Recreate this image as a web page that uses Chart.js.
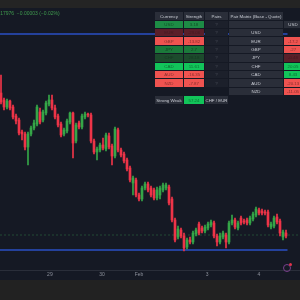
<!DOCTYPE html>
<html>
<head>
<meta charset="utf-8">
<script src="https://cdn.jsdelivr.net/npm/chart.js@4.4.1/dist/chart.umd.min.js"></script>
<style>
  body { margin: 0; width: 300px; height: 300px; overflow: hidden; background: #151924; position: relative; font-family: "Liberation Sans", Arial, sans-serif; }
  #topbar { position: absolute; left: 0; top: 0; width: 300px; height: 8px; background: #242424; }
  #bottombar { position: absolute; left: 0; top: 280px; width: 300px; height: 20px; background: #222222; }
  #wrap { position: absolute; left: 0; top: 8px; width: 300px; height: 272px; }
  #quote { position: absolute; left: -4px; top: 10px; font-size: 5px; color: #3f9a4e; white-space: nowrap; }
  .cell { position: absolute; font-size: 4.4px; color: #c9ccd4; display: flex; align-items: center; justify-content: center; white-space: nowrap; overflow: hidden; }
  #icon { position: absolute; left: 283px; top: 264px; width: 6px; height: 6px; border: 1px solid #7a3f8c; border-radius: 50%; }
  #icon::after { content: ""; position: absolute; right: -2px; top: -2px; width: 3px; height: 3px; border-radius: 50%; background: #e0334a; }
</style>
</head>
<body>
<div id="topbar"></div>
<div id="wrap"><canvas id="chart" width="300" height="272"></canvas></div>
<div id="bottombar"></div>
<div id="quote">1.17976 &nbsp;−0.00003 (−0.02%)</div>
<div id="table"></div>
<div id="icon"></div>
<script>
// candles (one per bar, oldest first)
const opens = [1.1907, 1.1900, 1.1893, 1.1899, 1.1893, 1.1884, 1.1880, 1.1868, 1.1866, 1.1853,
  1.1866, 1.1872, 1.1876, 1.1888, 1.1880, 1.1887, 1.1896, 1.1900, 1.1892, 1.1884,
  1.1876, 1.1866, 1.1869, 1.1878, 1.1887, 1.1859, 1.1877, 1.1873, 1.1883, 1.1886,
  1.1885, 1.1859, 1.1848, 1.1850, 1.1855, 1.1851, 1.1864, 1.1854, 1.1844, 1.1870,
  1.1850, 1.1846, 1.1840, 1.1832, 1.1817, 1.1820, 1.1805, 1.1801, 1.1812, 1.1816,
  1.1812, 1.1810, 1.1802, 1.1805, 1.1810, 1.1812, 1.1813, 1.1801, 1.1780, 1.1763,
  1.1770, 1.1764, 1.1753, 1.1760, 1.1758, 1.1766, 1.1776, 1.1772, 1.1769, 1.1772,
  1.1775, 1.1777, 1.1764, 1.1758, 1.1763, 1.1765, 1.1758, 1.1777, 1.1780, 1.1772,
  1.1782, 1.1779, 1.1780, 1.1777, 1.1781, 1.1785, 1.1790, 1.1789, 1.1788, 1.1788,
  1.1773, 1.1774, 1.1783, 1.1779, 1.1763, 1.1767];
const closes = [1.1898, 1.1893, 1.1899, 1.1892, 1.1883, 1.1879, 1.1867, 1.1866, 1.1853, 1.1866,
  1.1872, 1.1877, 1.1893, 1.1878, 1.1888, 1.1897, 1.1900, 1.1892, 1.1883, 1.1875,
  1.1865, 1.1870, 1.1879, 1.1887, 1.1857, 1.1875, 1.1873, 1.1884, 1.1886, 1.1885,
  1.1859, 1.1848, 1.1851, 1.1855, 1.1852, 1.1865, 1.1853, 1.1844, 1.1871, 1.1850,
  1.1845, 1.1839, 1.1831, 1.1820, 1.1822, 1.1805, 1.1801, 1.1812, 1.1816, 1.1810,
  1.1805, 1.1802, 1.1810, 1.1812, 1.1815, 1.1815, 1.1797, 1.1780, 1.1760, 1.1771,
  1.1764, 1.1752, 1.1760, 1.1758, 1.1767, 1.1770, 1.1767, 1.1769, 1.1773, 1.1776,
  1.1778, 1.1764, 1.1758, 1.1764, 1.1767, 1.1758, 1.1777, 1.1780, 1.1773, 1.1777,
  1.1777, 1.1778, 1.1777, 1.1782, 1.1786, 1.1791, 1.1787, 1.1787, 1.1787, 1.1775,
  1.1776, 1.1782, 1.1778, 1.1767, 1.1768, 1.1764];
const highs = [1.1925, 1.1902, 1.1901, 1.1900, 1.1895, 1.1886, 1.1882, 1.1870, 1.1868, 1.1868,
  1.1874, 1.1880, 1.1895, 1.1892, 1.1890, 1.1899, 1.1905, 1.1905, 1.1895, 1.1886,
  1.1878, 1.1872, 1.1881, 1.1888, 1.1888, 1.1877, 1.1879, 1.1886, 1.1888, 1.1887,
  1.1887, 1.1861, 1.1853, 1.1857, 1.1862, 1.1867, 1.1867, 1.1856, 1.1873, 1.1872,
  1.1852, 1.1848, 1.1842, 1.1834, 1.1824, 1.1822, 1.1807, 1.1814, 1.1818, 1.1818,
  1.1814, 1.1812, 1.1813, 1.1814, 1.1817, 1.1817, 1.1815, 1.1803, 1.1782, 1.1774,
  1.1772, 1.1767, 1.1762, 1.1763, 1.1769, 1.1772, 1.1778, 1.1774, 1.1775, 1.1778,
  1.1780, 1.1779, 1.1766, 1.1767, 1.1769, 1.1767, 1.1779, 1.1785, 1.1782, 1.1779,
  1.1784, 1.1781, 1.1782, 1.1784, 1.1788, 1.1793, 1.1792, 1.1791, 1.1790, 1.1790,
  1.1778, 1.1784, 1.1786, 1.1781, 1.1770, 1.1770];
const lows = [1.1896, 1.1890, 1.1891, 1.1890, 1.1881, 1.1876, 1.1865, 1.1860, 1.1850, 1.1835,
  1.1864, 1.1870, 1.1874, 1.1876, 1.1878, 1.1885, 1.1894, 1.1890, 1.1881, 1.1873,
  1.1863, 1.1864, 1.1867, 1.1876, 1.1842, 1.1857, 1.1871, 1.1871, 1.1881, 1.1883,
  1.1857, 1.1846, 1.1840, 1.1848, 1.1850, 1.1849, 1.1851, 1.1835, 1.1842, 1.1848,
  1.1843, 1.1837, 1.1829, 1.1818, 1.1805, 1.1803, 1.1799, 1.1799, 1.1810, 1.1808,
  1.1803, 1.1800, 1.1800, 1.1801, 1.1808, 1.1810, 1.1795, 1.1778, 1.1758, 1.1761,
  1.1762, 1.1749, 1.1751, 1.1756, 1.1756, 1.1764, 1.1765, 1.1767, 1.1767, 1.1770,
  1.1773, 1.1762, 1.1754, 1.1756, 1.1761, 1.1752, 1.1756, 1.1775, 1.1771, 1.1770,
  1.1775, 1.1776, 1.1775, 1.1775, 1.1779, 1.1783, 1.1785, 1.1785, 1.1785, 1.1773,
  1.1771, 1.1772, 1.1776, 1.1764, 1.1760, 1.1762];

// horizontal levels
const upperLevel = 1.1966;
const lowerLevel = 1.1750;
const dashedLevel = 1.1765;

// x axis labels (position in bars)
const tickPos = [16.3, 33.7, 46, 68.7, 86];
const tickLabels = ["29", "30", "Feb", "3", "4"];

// strength table
const currencies = ["USD", "EUR", "GBP", "JPY", "CHF", "CAD", "AUD", "NZD"];
const strength = ["3.18", "-29.06", "-13.82", "2.7", "28.18", "11.61", "-16.35", "-7.87"];
const usdColumn = ["", "-17.2", "-27", "-0.48", "20.05", "8.43", "-20.13", "-11.05"];
const strongWeak = "57.24";
const strongPair = "CHF / EUR";

const GREEN = "#35a648";
const RED = "#ee3448";
const strengthBg = ["#1d8c45", "#5a1f29", "#ef5350", "#1b7a3b", "#1c4a2c", "#12c45a", "#ef5350", "#ef5350"];
const usdBg = ["", "#ef5350", "#ef5350", "#5a1f29", "#12c45a", "#12c45a", "#ef5350", "#ef5350"];

const bodies = opens.map((o, i) => ({ x: i, y: [o, closes[i]] }));
const wicks = opens.map((o, i) => ({ x: i, y: [lows[i], highs[i]] }));
const colors = opens.map((o, i) => (closes[i] >= o ? GREEN : RED));
const xMin = -1 / 3;
const xMax = 100 - 1 / 3;
const lastX = opens.length - 0.5;

new Chart(document.getElementById("chart"), {
  type: "bar",
  data: {
    datasets: [
      {
        type: "line",
        data: [{ x: xMin, y: upperLevel }, { x: lastX, y: upperLevel }],
        borderColor: "#2a4fc4",
        borderWidth: 1.5,
        pointRadius: 0,
        order: 4,
      },
      {
        type: "line",
        data: [{ x: xMin, y: lowerLevel }, { x: lastX, y: lowerLevel }],
        borderColor: "#2a4fc4",
        borderWidth: 1.5,
        pointRadius: 0,
        order: 4,
      },
      {
        type: "line",
        data: [{ x: xMin, y: dashedLevel }, { x: xMax, y: dashedLevel }],
        borderColor: "rgba(40,95,60,0.7)",
        borderWidth: 1,
        borderDash: [2, 2],
        pointRadius: 0,
        order: 5,
      },
      {
        data: wicks,
        backgroundColor: colors,
        barThickness: 1,
        grouped: false,
        order: 2,
      },
      {
        data: bodies,
        backgroundColor: colors,
        barThickness: 2,
        minBarLength: 1,
        grouped: false,
        order: 1,
      },
    ],
  },
  options: {
    responsive: false,
    animation: false,
    layout: { padding: 0 },
    plugins: { legend: { display: false }, tooltip: { enabled: false } },
    scales: {
      x: {
        type: "linear",
        min: xMin,
        max: xMax,
        offset: false,
        grid: { display: false, drawTicks: false, tickLength: 0 },
        border: { color: "#2a2e39" },
        afterBuildTicks: (scale) => {
          scale.ticks = tickPos.map((v) => ({ value: v }));
        },
        ticks: {
          autoSkip: false,
          maxRotation: 0,
          padding: 2,
          color: "#8c909b",
          font: { size: 5, family: "Liberation Sans" },
          callback: (v, idx) => tickLabels[idx],
        },
      },
      y: { display: false, min: 1.1730, max: 1.1992 },
    },
  },
});

// table overlay
const table = document.getElementById("table");
function cell(x, y, w, h, text, bg, color) {
  const d = document.createElement("div");
  d.className = "cell";
  d.style.left = x + "px";
  d.style.top = y + "px";
  d.style.width = w + "px";
  d.style.height = h + "px";
  if (bg) d.style.background = bg;
  if (color) d.style.color = color;
  d.textContent = text;
  table.appendChild(d);
}
const HEAD = "#2a2e39";
const rowTop = (k) => 20.5 + 8.4 * k;
cell(155, 12, 28, 8, "Currency", HEAD);
cell(184, 12, 20, 8, "Strength", HEAD);
cell(205, 12, 23, 8, "Pairs", HEAD);
cell(229, 12, 54, 8, "Pair Matrix (Base - Quote)", HEAD);
cell(229, rowTop(0), 54, 7.6, "", HEAD);
cell(284, rowTop(0), 18, 7.6, "USD", HEAD);
currencies.forEach((c, k) => {
  const dim = strengthBg[k] === "#5a1f29" || strengthBg[k] === "#1c4a2c";
  const tc = dim ? "rgba(0,0,0,0.25)" : "rgba(0,0,0,0.45)";
  cell(155, rowTop(k), 28, 7.6, c, strengthBg[k], tc);
  cell(184, rowTop(k), 20, 7.6, strength[k], strengthBg[k], tc);
  cell(205, rowTop(k), 23, 7.6, "?", "#1c202b", "#4e525d");
  cell(229, rowTop(k + 1), 54, 7.6, c, HEAD);
  if (usdColumn[k]) {
    const dimU = usdBg[k] === "#5a1f29";
    cell(284, rowTop(k + 1), 18, 7.6, usdColumn[k], usdBg[k], dimU ? "rgba(0,0,0,0.25)" : "rgba(0,0,0,0.45)");
  }
});
cell(155, 96, 28, 8, "Strong Weak", HEAD);
cell(184, 96, 20, 8, strongWeak, "#12c45a", "rgba(0,0,0,0.45)");
cell(205, 96, 23, 8, strongPair, HEAD);
</script>
</body>
</html>
